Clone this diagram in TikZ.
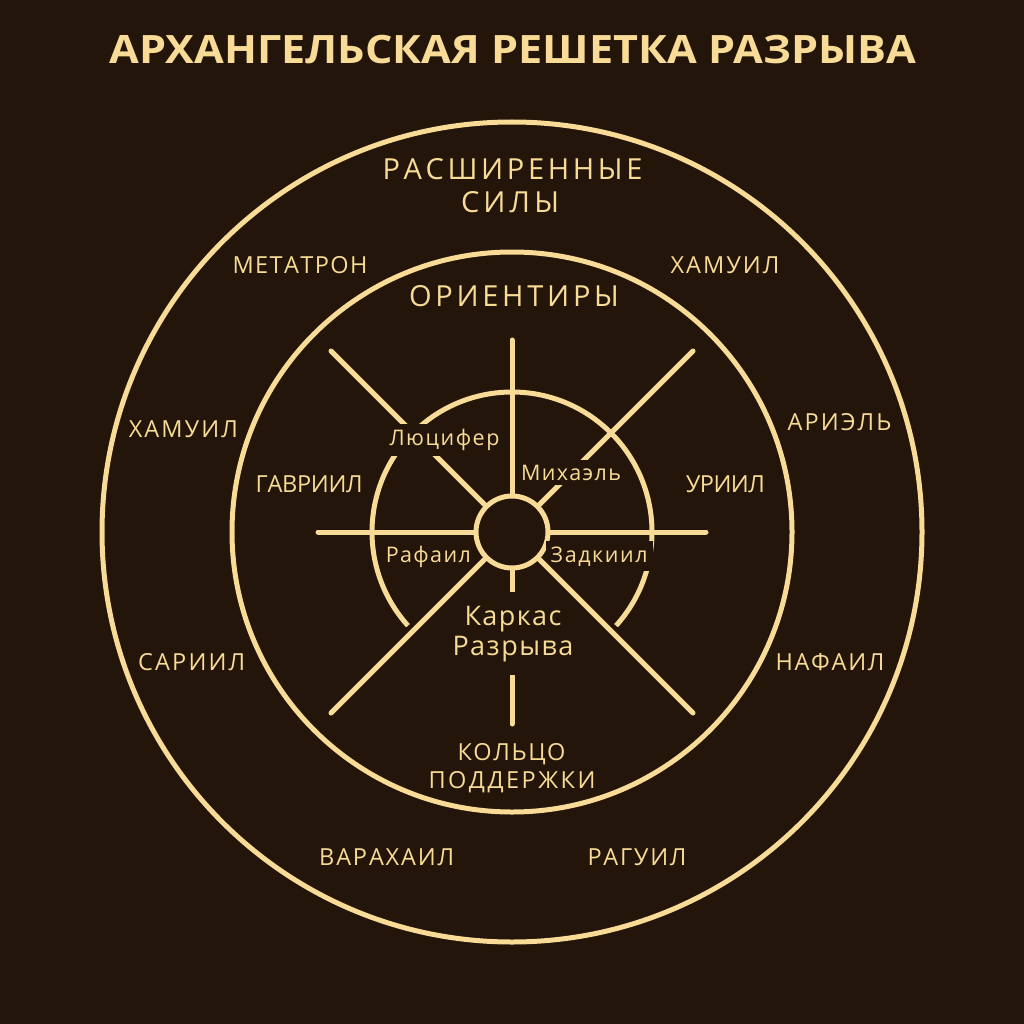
\documentclass[tikz,border=0pt]{standalone}
\usepackage{fontspec}
\setmainfont{Open Sans}
\usepackage{graphicx}
\definecolor{bg}{HTML}{231509}
\definecolor{gold}{HTML}{F8DB96}
\makeatletter
\newcommand\trackto[2]{\begingroup
  \count@\z@
  \@tfor\trk@t:=#2\do{\advance\count@\@ne}%
  \setbox\z@\hbox{\@tfor\trk@t:=#2\do{\trk@t\kern\z@}}%
  \dimen@=#1pt\relax
  \advance\dimen@-\wd\z@
  \ifnum\count@>\@ne \divide\dimen@\numexpr\count@-1\relax\fi
  \def\trk@sep{}%
  \@tfor\trk@t:=#2\do{\trk@sep\trk@t\def\trk@sep{\kern\dimen@}}%
  \endgroup}
\makeatother
\tikzset{
  ringline/.style={draw=gold, line width=5pt},
  spoke/.style={draw=gold, line width=5pt, line cap=round},
  lbl/.style={text=gold, anchor=base, inner sep=0pt},
  outerlbl/.style={lbl, font=\fontsize{23.5}{28}\selectfont},
  biglbl/.style={lbl, font=\fontsize{29}{33}\selectfont},
  innerlbl/.style={lbl, font=\fontsize{21.5}{25}\selectfont},
  masked/.style={fill=bg, inner sep=5pt},
}
\begin{document}
\begin{tikzpicture}[x=1pt, y=-1pt]
  \fill[bg] (0,0) rectangle (1024,1024);
  \useasboundingbox (0,0) rectangle (1024,1024);

  % title
  \node[lbl] (title) at (513,64)
    {\resizebox{806pt}{28.3pt}{\bfseries АРХАНГЕЛЬСКАЯ РЕШЕТКА РАЗРЫВА}};

  % circles
  \coordinate (c) at (512,532);
  \draw[ringline] (c) circle[radius=410];
  \draw[ringline] (c) circle[radius=280];
  \node[circle, ringline, inner sep=0pt, minimum size=72pt] (core) at (c) {};

  % spoke ends
  \coordinate (vt) at (512,340);
  \coordinate (vb) at (512,724);
  \coordinate (hl) at (318,532);
  \coordinate (hr) at (706,532);
  \coordinate (dtl) at (331,351);
  \coordinate (dtr) at (693,351);
  \coordinate (dbl) at (331,713);
  \coordinate (dbr) at (693,713);

  % inner arc and first spokes (masked by labels)
  \draw[ringline] (c) ++(42:140) arc[start angle=42, end angle=-222, radius=140];
  \draw[spoke] (core.north) -- (vt);
  \draw[spoke] (core.south) -- (vb);
  \draw[spoke] (core.north west) -- (dtl);
  \draw[spoke] (core.north east) -- (dtr);

  % masking labels
  \node[innerlbl, masked] (lucifer) at (444.5,445.7) {\trackto{110}{Люцифер}};
  \node[innerlbl, masked] (michael) at (571,480) {\trackto{100}{Михаэль}};
  \node[innerlbl, masked] (zadkiel) at (599.2,562) {\trackto{97}{Задкиил}};
  \node[lbl, fill=bg, align=center, anchor=center, inner xsep=5pt, inner ysep=0pt,
        minimum height=83pt, font=\fontsize{27}{30}\selectfont] (frame) at (513,633.8)
        {\trackto{97}{Каркас}\\\trackto{121}{Разрыва}};

  % remaining spokes
  \draw[spoke] (core.west) -- (hl);
  \draw[spoke] (core.east) -- (hr);
  \draw[spoke] (core.south west) -- (dbl);
  \draw[spoke] (core.south east) -- (dbr);

  % inner labels
  \node[innerlbl] (raphael) at (428.3,562) {\trackto{85}{Рафаил}};

  % ring labels
  \node[biglbl] (ext1) at (512.5,180) {\trackto{260}{РАСШИРЕННЫЕ}};
  \node[biglbl] (ext2) at (510,213) {\trackto{98}{СИЛЫ}};
  \node[biglbl] (orient) at (514,306.7) {\trackto{210}{ОРИЕНТИРЫ}};
  \node[outerlbl] (ring1) at (511.5,760) {\trackto{108}{КОЛЬЦО}};
  \node[outerlbl] (ring2) at (512,788) {\trackto{167}{ПОДДЕРЖКИ}};

  \node[outerlbl] (metatron) at (300,273) {\trackto{135}{МЕТАТРОН}};
  \node[outerlbl] (hamuilL) at (183.3,437) {\trackto{109}{ХАМУИЛ}};
  \node[outerlbl] (gabriel) at (309.2,492) {\trackto{107}{ГАВРИИЛ}};
  \node[outerlbl] (hamuilR) at (725,273) {\trackto{109}{ХАМУИЛ}};
  \node[outerlbl] (ariel) at (839.5,430) {\trackto{104}{АРИЭЛЬ}};
  \node[outerlbl] (uriel) at (725.3,492) {\trackto{79}{УРИИЛ}};
  \node[outerlbl] (sariel) at (191.7,670) {\trackto{107}{САРИИЛ}};
  \node[outerlbl] (nafail) at (830,670) {\trackto{109}{НАФАИЛ}};
  \node[outerlbl] (barachiel) at (386.7,865) {\trackto{135}{ВАРАХАИЛ}};
  \node[outerlbl] (raguel) at (637,865) {\trackto{99}{РАГУИЛ}};
\end{tikzpicture}
\end{document}
